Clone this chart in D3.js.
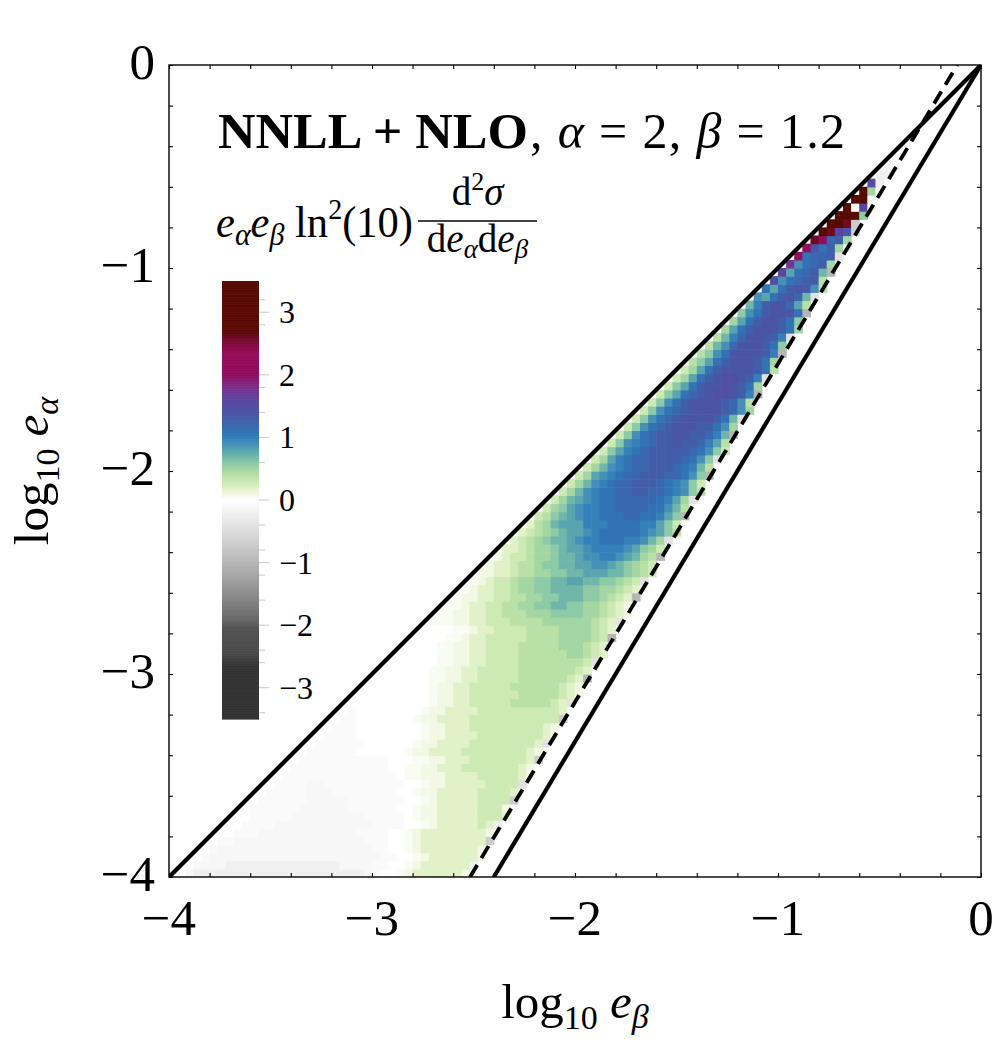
<!DOCTYPE html>
<html><head><meta charset="utf-8">
<script src="https://cdn.jsdelivr.net/npm/d3@7"></script>
<style>body{margin:0;background:#fff} text{white-space:pre}</style>
</head><body>
<svg id="c" width="1000" height="1045" xmlns="http://www.w3.org/2000/svg"></svg>
<script>
// ---------------- DATA ----------------
// heat-map levels: each cell of a row string is a level char (run-length: char + optional count)
const levelChars  = "gfedcba0123456789ABCDEFGHIJKLMNO";
const levelValues = [-1.5,-1.0,-0.7,-0.4,-0.2,-0.1,-0.05,
                     0,0.05,0.1,0.2,0.3,0.4,0.5,0.6,0.7,0.8,
                     0.9,1.0,1.1,1.2,1.3,1.4,1.5,1.6,1.8,2.0,2.2,2.5,2.6,3.2,3.5];
const gridStart = -4, gridStep = 0.04;   // bins in log10 e
// row j covers log10 e_alpha in [-4+0.04j, -4+0.04(j+1)], cells start at column j+1 (log10 e_beta)
const cellRows = [
"0 b c21 b a 0 0 1 2 36 2",
"0 b4 c14 b4 a2 0 0 1 2 36 c",
"0 a b21 a2 0 0 1 2 36 2",
"0 a b19 a2 0 0 1 2 37 2",
"0 a2 b16 a3 0 0 1 2 38 e",
"0 0 a3 b12 a4 0 0 1 2 38 2",
"0 0 a4 b12 a4 0 0 1 2 35 4 3 c",
"0 0 a5 b9 a5 0 1 2 2 35 43 3",
"0 a6 b6 a6 0 0 1 2 2 35 43 2",
"0 a6 b5 a7 0 0 1 2 35 44 e",
"0 a5 b3 a8 0 0 1 2 2 35 44 3",
"0 a4 b2 a10 0 0 1 2 2 35 44 d",
"0 a14 0 1 1 2 2 2 34 45 3 2",
"0 a12 0 0 1 1 2 2 33 47 3 2",
"0 a11 0 0 0 1 1 2 2 33 47 3 e",
"0 a6 06 1 2 2 3 33 47 4 3 2",
"0 a6 06 1 2 2 3 33 48 3 d",
"0 a4 08 1 2 2 3 33 48 3 2",
"0 a3 08 1 2 2 33 49 3 2",
"0 a2 07 1 2 2 3 33 410 4 e",
"0 a 08 1 2 2 3 33 49 4 3",
"0 09 1 2 2 3 3 45 55 4 3 d",
"0 08 1 2 2 3 3 46 55 4 3 2",
"0 07 1 2 2 3 3 45 56 4 3 2",
"0 06 1 1 2 2 3 3 45 56 4 3 f",
"0 05 1 1 2 2 3 3 4 44 57 4 3",
"0 05 1 1 2 2 3 3 44 58 4 d",
"0 04 1 1 2 2 3 3 44 56 6 6 5 4 3",
"0 03 1 1 2 2 3 3 44 55 63 5 4 3",
"0 03 1 1 2 3 3 4 44 54 64 5 4 f",
"0 03 1 1 2 3 3 4 43 54 64 5 4 3",
"13 22 32 43 54 66 5 4 3 d",
"12 22 32 42 53 63 74 62 5 4 3 2",
"12 2 32 42 52 62 72 82 72 62 5 4 3 2",
"1 22 32 42 52 62 72 83 72 6 5 4 3 f",
"1 2 32 42 5 62 72 84 72 62 5 4 3",
"1 2 3 42 5 62 72 82 92 82 72 6 5 4 d",
"22 32 4 52 62 72 82 93 82 7 6 5 4",
"2 32 4 52 6 72 82 92 A2 9 8 7 6 5 4",
"2 3 42 5 62 7 82 9 A2 B2 A 9 8 6 5 f",
"32 4 5 62 7 8 92 A B4 A 9 7 6 4",
"3 4 5 6 7 82 9 A B2 C3 B2 A 8 6 d",
"3 4 5 6 7 8 92 A B C5 B A 9 7 5",
"3 5 6 8 93 B3 C4 B2 9 7 4",
"4 5 7 8 9 A B2 C3 D2 C2 B 9 7 f",
"4 6 7 9 A B2 C2 D4 C2 A 8 5",
"4 6 8 9 A B C2 D5 C B 9 6 d",
"4 6 8 A B C2 D2 E2 D2 C B A 7 5",
"4 6 8 A B C D2 E3 D C B A 7 4",
"4 6 9 A B C D2 E3 D2 C A 7 f",
"4 6 8 A B C D2 E3 D C B 8 5",
"4 6 9 B C D2 E4 D C A 7 d",
"4 7 9 B C D E5 D C A 7 4",
"4 7 A B C D E2 F E2 D B 9 5",
"4 7 A C D E2 F2 E2 D B 8 f",
"4 7 A C D E F3 E2 C A 6",
"4 7 A C D E F4 E C 8 d",
"4 7 A C D E F4 E D A 6",
"4 7 A C E F4 E D A 5",
"4 7 9 C D E F G2 F E B f",
"4 7 9 C E F2 G F E C 6",
"4 6 9 C E F G2 F E B d",
"4 6 9 C E F4 E C 5",
"5 7 9 C E F3 E C 6",
"5 7 A C F4 E B f",
"5 8 A D F3 E C 7",
"5 8 B D F3 E B d",
"6 9 C E F3 E C 6",
"6 9 C E F2 E C 7",
"7 A C E F3 C f",
"8 B E F2 D 9 5",
"A 9 C E F D 8 d",
"C 9 C E F E A 5",
"G A C D E E 5",
"H 9 C D E 8 f",
"I A C D E 6",
"K C D D E d",
"K F C E 6 c",
"M J D E 6",
"O M H F e",
"O O M e",
"O O O 7",
"O 0 H 2",
"O O 1",
"O 6 1",
"G c",
"c c",
"c b",
"b"
];

// colour map (value -> colour)
const colorStopValues = [-3.5,-2.65,-2.45,-2.05,-1.9,-1.5,-1.1,-0.7,-0.35,-0.05,0,
                         0.1,0.25,0.45,0.6,0.75,0.9,1.05,1.2,1.4,1.6,1.8,2.0,2.35,2.55,2.7,3.5];
const colorStopColors = ["#333333","#333333","#4a4a4a","#525252","#686868","#8c8c8c","#aeaeae","#cccccc","#e6e6e6","#fafafa","#ffffff",
                         "#f2f8e4","#d8eeba","#aedca0","#8ccaa8","#62aeab","#4690b8","#2c78b8","#3a68b0","#4a55a5","#5a46a0","#7a3290","#900c60","#960c5a","#780a30","#5e0a08","#560a00"];

// boundary lines in (log10 e_beta, log10 e_alpha)
const upperLine  = [[-4,-4],[0,0]];
const lowerLine  = [[-2.4,-4],[0,0]];
const dashedLine = [[-2.517,-4],[-0.117,0]];

// axes
const axisDomain = [-4,0];
const majorTicks = [-4,-3,-2,-1,0];
const tickLabels = ["\u22124","\u22123","\u22122","\u22121","0"];
const minorTickStep = 0.2;

// colour bar
const cbDomain = [-3.5,3.5];
const cbMajor = [-3,-2,-1,0,1,2,3];
const cbLabels = ["\u22123","\u22122","\u22121","0","1","2","3"];
const cbMinor = [3.2,2.8,1.8,1.4,0.6,-0.4,-0.8,-1.2,-1.6,-2.4,-2.6,-3.4];

// ---------------- DRAW ----------------
const FONT = "'Liberation Serif','DejaVu Serif',serif";
const svg = d3.select("#c");
const X = d3.scaleLinear(axisDomain,[169,981]);
const Y = d3.scaleLinear(axisDomain,[877,65]);
const color = d3.scaleLinear().domain(colorStopValues).range(colorStopColors)
  .interpolate(d3.interpolateRgb).clamp(true);

svg.append("defs").append("clipPath").attr("id","plotClip")
  .append("rect").attr("x",X(-4)).attr("y",Y(0)).attr("width",X(0)-X(-4)).attr("height",Y(-4)-Y(0));

// parse heat-map rows
const cells = [];
cellRows.forEach((row,j)=>{
  let i = j+1;
  row.trim().split(/\s+/).forEach(tok=>{
    const ch = tok[0];
    const n = tok.length>1 ? parseInt(tok.slice(1),10) : 1;
    const li = levelChars.indexOf(ch);
    for(let r=0;r<n;r++){
      if(li>=0) cells.push({u:gridStart+i*gridStep, v:gridStart+j*gridStep, val:levelValues[li]});
      i++;
    }
  });
});

const plot = svg.append("g").attr("clip-path","url(#plotClip)");
plot.append("g").selectAll("rect").data(cells).join("rect")
  .attr("x",d=>X(d.u)).attr("y",d=>Y(d.v+gridStep))
  .attr("width",d=>X(d.u+gridStep)-X(d.u)+0.6)
  .attr("height",d=>Y(d.v)-Y(d.v+gridStep)+0.6)
  .attr("fill",d=>color(d.val));

const line = d3.line().x(d=>X(d[0])).y(d=>Y(d[1]));
plot.append("path").attr("d",line(upperLine)).attr("stroke","#000").attr("stroke-width",4.2).attr("fill","none");
plot.append("path").attr("d",line(lowerLine)).attr("stroke","#000").attr("stroke-width",4.2).attr("fill","none");
plot.append("path").attr("d",line(dashedLine)).attr("stroke","#000").attr("stroke-width",3.8)
  .attr("stroke-dasharray","14,8").attr("fill","none");

// ticks (inward, all sides)
const minorTicks = d3.range(axisDomain[0], axisDomain[1]+1e-9, minorTickStep);
const mk = (axis, scale, tr) => svg.append("g").attr("transform",tr)
  .call(axis(scale).tickValues(minorTicks).tickSize(-4).tickSizeOuter(0).tickFormat(""))
  .call(g=>g.select(".domain").remove())
  .call(g=>g.selectAll("line").attr("stroke","#000").attr("stroke-width",1.1));
mk(d3.axisBottom, X, `translate(0,${Y(-4)})`);
mk(d3.axisTop,    X, `translate(0,${Y(0)})`);
mk(d3.axisLeft,   Y, `translate(${X(-4)},0)`);
mk(d3.axisRight,  Y, `translate(${X(0)},0)`);
svg.append("rect").attr("x",X(-4)).attr("y",Y(0)).attr("width",X(0)-X(-4)).attr("height",Y(-4)-Y(0))
  .attr("fill","none").attr("stroke","#000").attr("stroke-width",1.4);

// tick labels
svg.append("g").selectAll("text").data(majorTicks).join("text")
  .attr("x",d=>X(d)).attr("y",Y(-4)+58).attr("text-anchor","middle")
  .attr("font-family",FONT).attr("font-size",51).text((d,i)=>tickLabels[i]);
svg.append("g").selectAll("text").data(majorTicks).join("text")
  .attr("x",X(-4)-14).attr("y",d=>Y(d)+14).attr("text-anchor","end")
  .attr("font-family",FONT).attr("font-size",51).text((d,i)=>tickLabels[i]);

// axis titles
function logTitle(sel, sym){
  sel.append("tspan").text("log");
  sel.append("tspan").attr("font-size",34).attr("dy",11).text("10");
  sel.append("tspan").attr("dy",-11).text(" ");
  sel.append("tspan").attr("font-style","italic").text("e");
  sel.append("tspan").attr("font-style","italic").attr("font-size",34).attr("dy",10).text(sym);
}
const xt = svg.append("text").attr("x",X(-2)).attr("y",1018).attr("text-anchor","middle")
  .attr("font-family",FONT).attr("font-size",49);
logTitle(xt,"\u03B2");
const yt = svg.append("text").attr("transform",`translate(48,${Y(-2)}) rotate(-90)`).attr("text-anchor","middle")
  .attr("font-family",FONT).attr("font-size",49);
logTitle(yt,"\u03B1");

// colour bar
const CB = d3.scaleLinear(cbDomain,[719,281]);
const cbSteps = d3.range(cbDomain[0], cbDomain[1], 0.01);
svg.append("g").selectAll("rect").data(cbSteps).join("rect")
  .attr("x",222).attr("width",37)
  .attr("y",d=>CB(d+0.01)).attr("height",d=>CB(d)-CB(d+0.01)+0.6)
  .attr("fill",d=>color(d+0.005));
svg.append("g").selectAll("line").data(cbMinor).join("line")
  .attr("x1",259).attr("x2",265).attr("y1",d=>CB(d)).attr("y2",d=>CB(d))
  .attr("stroke","#c8c8c8").attr("stroke-width",1);
svg.append("g").selectAll("line").data(cbMajor).join("line")
  .attr("x1",259).attr("x2",269).attr("y1",d=>CB(d)).attr("y2",d=>CB(d))
  .attr("stroke","#c8c8c8").attr("stroke-width",1);
svg.append("g").selectAll("text").data(cbMajor).join("text")
  .attr("x",279).attr("y",d=>CB(d)+11)
  .attr("font-family",FONT).attr("font-size",32).text((d,i)=>cbLabels[i]);

// title
const t1 = svg.append("text").attr("x",218).attr("y",148).attr("font-family",FONT).attr("font-size",50)
  .attr("font-weight","bold").attr("textLength",310).attr("lengthAdjust","spacingAndGlyphs").text("NNLL + NLO");
const t2 = svg.append("text").attr("x",530).attr("y",148).attr("font-family",FONT).attr("font-size",50)
  .attr("textLength",315).attr("lengthAdjust","spacing");
t2.append("tspan").text(", ");
t2.append("tspan").attr("font-style","italic").text("\u03B1");
t2.append("tspan").text(" = 2, ");
t2.append("tspan").attr("font-style","italic").text("\u03B2");
t2.append("tspan").text(" = 1.2");

// colour-bar label
const lab = svg.append("text").attr("x",216).attr("y",237).attr("font-family",FONT).attr("font-size",44)
  .attr("textLength",197).attr("lengthAdjust","spacingAndGlyphs");
lab.append("tspan").attr("font-style","italic").text("e");
lab.append("tspan").attr("font-style","italic").attr("font-size",31).attr("dy",8).text("\u03B1");
lab.append("tspan").attr("font-style","italic").attr("dy",-8).text("e");
lab.append("tspan").attr("font-style","italic").attr("font-size",31).attr("dy",8).text("\u03B2");
lab.append("tspan").attr("dy",-8).text(" ln");
lab.append("tspan").attr("font-size",29).attr("dy",-18).text("2");
lab.append("tspan").attr("dy",18).text("(10)");
const fx0 = 418, fx1 = 537;
svg.append("line").attr("x1",fx0).attr("x2",fx1).attr("y1",221).attr("y2",221)
  .attr("stroke","#000").attr("stroke-width",1.6);
const den = svg.append("text").attr("x",(fx0+fx1)/2).attr("y",252).attr("text-anchor","middle")
  .attr("font-family",FONT).attr("font-size",39);
den.append("tspan").text("d");
den.append("tspan").attr("font-style","italic").text("e");
den.append("tspan").attr("font-style","italic").attr("font-size",27).attr("dy",6).text("\u03B1");
den.append("tspan").attr("dy",-6).text("d");
den.append("tspan").attr("font-style","italic").text("e");
den.append("tspan").attr("font-style","italic").attr("font-size",27).attr("dy",6).text("\u03B2");
const num = svg.append("text").attr("x",(fx0+fx1)/2).attr("y",205).attr("text-anchor","middle")
  .attr("font-family",FONT).attr("font-size",39);
num.append("tspan").text("d");
num.append("tspan").attr("font-size",26).attr("dy",-15).text("2");
num.append("tspan").attr("font-style","italic").attr("dy",15).text("\u03C3");
</script>
</body></html>
